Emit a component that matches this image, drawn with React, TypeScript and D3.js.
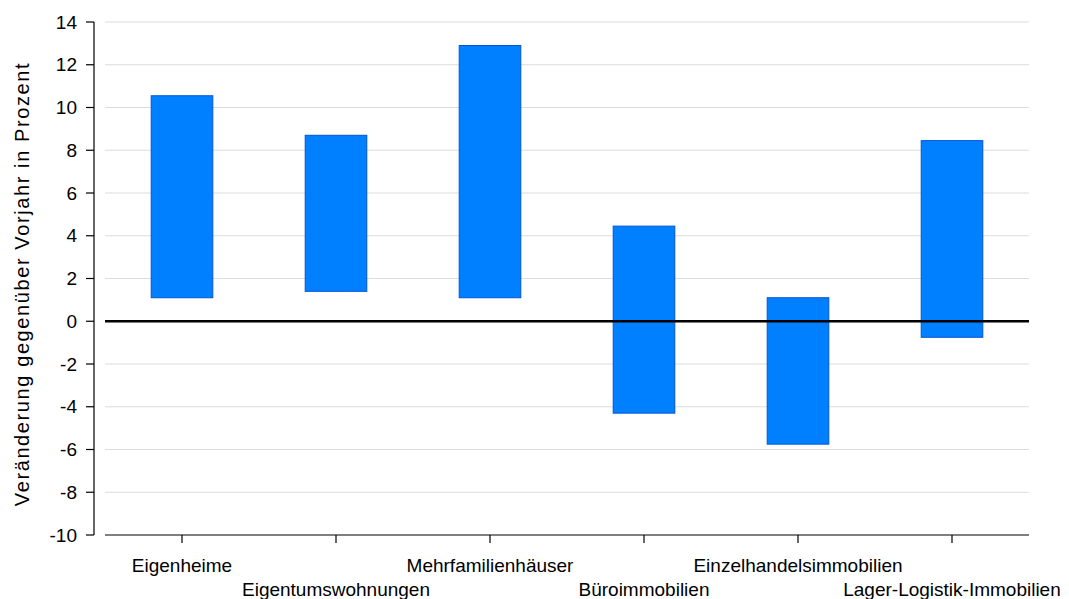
import React from "react";
import * as d3 from "d3";

const categories = [
  "Eigenheime",
  "Eigentumswohnungen",
  "Mehrfamilienhäuser",
  "Büroimmobilien",
  "Einzelhandelsimmobilien",
  "Lager-Logistik-Immobilien",
];
const lowValues = [1.1, 1.4, 1.1, -4.3, -5.75, -0.75];
const highValues = [10.55, 8.7, 12.9, 4.45, 1.1, 8.45];
const yTicks = [-10, -8, -6, -4, -2, 0, 2, 4, 6, 8, 10, 12, 14];
const yTitle = "Veränderung gegenüber Vorjahr in Prozent";

export default function App() {
  const W = 1069, H = 599;
  const plotL = 105, plotR = 1029, plotT = 22, plotB = 535;
  const axisX = 94;
  const x = d3.scaleBand<string>().domain(categories).range([plotL, plotR]).paddingInner(0).paddingOuter(0);
  const y = d3.scaleLinear().domain([-10, 14]).range([plotB, plotT]);
  const bw = x.bandwidth() * 0.4;
  const font = "'Liberation Sans', Arial, sans-serif";
  return (
    <svg width={W} height={H} style={{ position: "absolute", left: 0, top: 0 }} fontFamily={font}>
      <rect x={0} y={0} width={W} height={H} fill="#fff" />
      {yTicks.filter((t) => t !== 0 && t !== -10).map((t) => (
        <line key={"g" + t} x1={plotL} x2={plotR} y1={y(t)} y2={y(t)} stroke="#dcdcdc" strokeWidth={1} />
      ))}
      {categories.map((c, i) => {
        const cx = x(c)! + x.bandwidth() / 2;
        const top = y(highValues[i]);
        const bot = y(lowValues[i]);
        return (
          <rect key={c} x={cx - bw / 2} y={top} width={bw} height={bot - top} fill="#0080ff" stroke="#0055d4" strokeWidth={1} />
        );
      })}
      <line x1={plotL} x2={plotR} y1={y(0)} y2={y(0)} stroke="#000" strokeWidth={2.5} />
      <line x1={plotL} x2={plotR} y1={plotB} y2={plotB} stroke="#000" strokeWidth={1.2} />
      <line x1={axisX} x2={axisX} y1={plotT} y2={plotB} stroke="#000" strokeWidth={1.2} />
      {yTicks.map((t) => (
        <g key={"t" + t}>
          <line x1={axisX - 8} x2={axisX} y1={y(t)} y2={y(t)} stroke="#000" strokeWidth={1.2} />
          <text x={77} y={y(t)} dy="0.35em" textAnchor="end" fontSize={19} fill="#000">{t}</text>
        </g>
      ))}
      {categories.map((c, i) => {
        const cx = x(c)! + x.bandwidth() / 2;
        return (
          <g key={"x" + c}>
            <line x1={cx} x2={cx} y1={plotB} y2={plotB + 8} stroke="#000" strokeWidth={1.2} />
            <text x={cx} y={i % 2 === 0 ? 572 : 596} textAnchor="middle" fontSize={19} fill="#000">{c}</text>
          </g>
        );
      })}
      <text transform={`translate(29, 284) rotate(-90)`} textAnchor="middle" fontSize={20} letterSpacing={1.6} fill="#000">{yTitle}</text>
    </svg>
  );
}
